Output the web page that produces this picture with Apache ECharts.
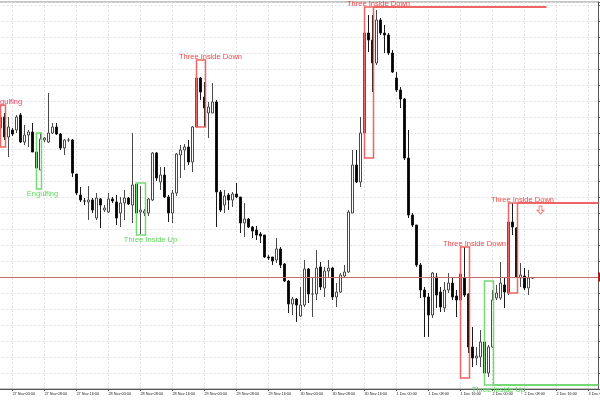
<!DOCTYPE html>
<html><head><meta charset="utf-8">
<script src="https://cdn.jsdelivr.net/npm/echarts@6/dist/echarts.min.js"></script>
<style>html,body{margin:0;padding:0;background:#fff}#c{width:600px;height:400px}</style>
</head><body><div id="c"></div>
<script>
// hourly bars, first visible bar 26 Nov 2025 21:00
const firstBarUTC = Date.UTC(2025, 10, 26, 21, 0);
const slotCount = 150;
const monthNames = ['Jan','Feb','Mar','Apr','May','Jun','Jul','Aug','Sep','Oct','Nov','Dec'];

const open = [261,272,252,259,259,274,247,254,257,237, 219,249,247,256,262,255,241,249,249,215,
 194,188,187,189,171,190,179,177,190,187, 176,186,191,184,205,177,176,176,189,236,
 207,214,192,176,196,234,239,242,227,262, 311,292,276,276,287,197,184,194,189,195,
 192,166,170,162,159,155,154,132,132,129, 140,125,108,85,90,73,84,120,95,95,
 122,101,118,121,92,97,113,117,176,224, 207,256,356,349,326,369,356,354,336,311,
 299,290,231,174,164,124,99,92,74,112, 97,81,99,106,93,89,111,95,42,31,
 32,47,16,42,91,91,104,96,167,161, 111,113,101,111];
const close = [272,252,262,255,272,247,254,257,237,221, 250,251,256,262,255,241,249,249,216,196,
 189,188,189,179,191,184,181,190,188,171, 186,191,185,204,176,179,178,190,236,211,
 214,192,176,196,235,239,242,227,262,311, 297,281,282,287,197,179,193,189,195,192,
 166,170,162,158,154,153,132,131,128,140, 124,108,85,90,84,84,120,95,95,121,
 102,118,121,92,97,114,117,177,224,207, 256,356,349,326,369,356,354,336,317,299,
 290,231,174,164,124,99,92,74,116,94, 82,99,106,92,89,115,94,42,31,33,
 47,16,42,89,96,106,97,167,162,112, 114,101,111,111];
const low = [243,249,232,253,256,246,244,242,237,212, 219,247,246,255,254,239,234,247,212,194,
 187,184,169,176,169,161,177,176,186,164, 162,169,184,166,173,155,173,173,188,208,
 199,191,167,166,193,211,219,224,217,262, 289,262,251,276,162,177,176,179,182,191,
 156,152,161,151,149,146,131,129,124,126, 121,107,76,74,67,72,82,86,72,89,
 99,92,112,89,82,96,112,116,176,206, 202,255,337,297,324,354,336,334,316,297,
 281,229,171,162,122,91,52,52,71,81, 77,77,96,89,72,87,92,36,22,24,
 22,9,12,41,89,89,81,94,154,111, 102,99,94,110];
const high = [283,276,272,261,274,276,264,259,266,237, 256,252,296,266,266,256,250,251,250,215,
 202,191,203,191,196,191,184,196,192,194, 192,199,192,256,206,203,180,191,237,237,
 222,222,194,199,236,244,245,249,263,329, 312,307,287,306,289,199,199,196,197,206,
 192,186,171,163,163,157,154,134,132,151, 142,126,109,92,91,102,129,121,112,139,
 127,122,129,122,106,116,124,179,239,239, 272,372,374,374,379,371,364,356,339,317,
 302,291,259,176,164,126,102,96,117,116, 102,107,116,112,99,142,142,96,62,42,
 59,59,44,99,104,127,112,186,186,162, 126,121,119,112];

const lastPrice = 112;

// candle-pattern annotations
const patternName   = ['Engulfing','Engulfing','Three Inside Up','Three Inside Down','Three Inside Down','Three Inside Down','Three Inside Up','Three Inside Down'];
const patternBull   = [false, true, true, false, false, false, true, false];
const patternStart  = [0, 9, 34, 49, 91, 115, 121, 127];
const patternEnd    = [1, 10, 36, 51, 93, 117, 123, 129];
const patternTop    = [284, 256, 206, 329, 382, 142, 108, 186];
const patternBottom = [242, 200, 154, 262, 231, 11, 4, 96];
const patternLabelAt = [1.5, 10.5, 37.5, 52.5, 94.5, 118.5, 124.5, 130.5];
const patternExtendTo = [null, null, null, null, 136.5, null, 149.5, 149.5];
const arrowPoints = [[135, 179]];

const categories = [];
const isTickIdx = [];
for (let i = 0; i < slotCount; i++) {
  const d = new Date(firstBarUTC + i * 3600000);
  const hh = d.getUTCHours();
  categories.push(d.getUTCDate() + ' ' + monthNames[d.getUTCMonth()] + ' ' + String(hh).padStart(2,'0') + ':00');
  isTickIdx.push(hh % 8 === 0);
}
const isTick = (idx) => isTickIdx[idx];

const ohlc = open.map((o, i) => [o, close[i], low[i], high[i]]);
const RED = '#f06464', RED_TXT = '#f04848', GREEN = '#74d874', GREEN_TXT = '#5cd65c';
const GRID_LINE = {color: '#e0e0e0', type: [2, 2], width: 1};

const chart = echarts.init(document.getElementById('c'), null, {renderer: 'canvas'});
chart.setOption({
  animation: false,
  backgroundColor: '#fff',
  grid: {left: -1.5, right: 1.5, top: 2, bottom: 11, show: true, borderColor: '#888', borderWidth: 1,
         containLabel: false, outerBoundsMode: 'none'},
  xAxis: {
    type: 'category', data: categories, boundaryGap: true,
    axisLine: {lineStyle: {color: '#555', width: 1}},
    axisTick: {show: true, alignWithLabel: true, interval: isTick, length: 2, lineStyle: {color: '#555'}},
    axisLabel: {interval: isTick, align: 'left', fontSize: 3.8, color: '#222', margin: 3, fontFamily: 'Liberation Sans', hideOverlap: false},
    splitLine: {show: true, alignWithLabel: true, interval: isTick, lineStyle: GRID_LINE}
  },
  yAxis: {
    type: 'value', position: 'right', min: 0, max: 387, interval: 16,
    axisLine: {show: true, lineStyle: {color: '#555'}},
    axisTick: {show: true, length: 3, lineStyle: {color: '#555'}},
    axisLabel: {show: false},
    splitLine: {show: true, lineStyle: GRID_LINE}
  },
  series: [
    {
      type: 'candlestick', data: ohlc, barWidth: 3,
      itemStyle: {color: '#fff', color0: '#000', borderColor: '#4a4a4a', borderColor0: '#1a1a1a', borderWidth: 1},
      emphasis: {disabled: true},
      markLine: {
        symbol: 'none', silent: true, animation: false,
        data: [{yAxis: lastPrice}],
        lineStyle: {color: '#c46a6a', width: 1, type: 'solid'},
        label: {show: true, position: 'end', distance: 0, formatter: 'L' + lastPrice, backgroundColor: '#e00000', color: '#fff', fontSize: 7, padding: [1, 2]}
      }
    },
    {
      type: 'custom', silent: true, z: 5,
      data: patternName.map((n, i) => [patternStart[i], patternTop[i], patternEnd[i], patternBottom[i]]),
      encode: {x: [0, 2], y: [1, 3]},
      renderItem: function (params, api) {
        const i = params.dataIndex;
        const bull = patternBull[i];
        const bw = api.size([1, 0])[0];
        const p1 = api.coord([patternStart[i], patternTop[i]]);
        const p2 = api.coord([patternEnd[i], patternBottom[i]]);
        const x1 = p1[0], x2 = p2[0] + 1, y1 = p1[1], y2 = p2[1];
        const col = bull ? GREEN : RED;
        const children = [{type: 'rect', shape: {x: x1, y: y1, width: x2 - x1, height: y2 - y1},
          style: {fill: 'none', stroke: col, lineWidth: 1.5}}];
        const ext = patternExtendTo[i];
        if (ext != null) {
          const b = Math.floor(ext);
          const ex = api.coord([b, 0])[0] + (ext - b) * bw;
          const ly = bull ? y2 : y1;
          children.push({type: 'line', shape: {x1: x2, y1: ly, x2: ex, y2: ly}, style: {stroke: col, lineWidth: 2}});
        }
        const lb = Math.floor(patternLabelAt[i]);
        const lx = api.coord([lb, 0])[0] + (patternLabelAt[i] - lb) * bw;
        const ty = bull ? y2 + 4.5 : y1 - 3;
        children.push({type: 'text', style: {text: patternName[i], x: lx, y: ty, align: 'center', verticalAlign: 'middle',
          fill: bull ? GREEN_TXT : (i === 0 ? '#f03c64' : RED_TXT), font: '7.5px "Liberation Sans"'}});
        return {type: 'group', children: children};
      }
    },
    {
      type: 'scatter', data: arrowPoints, silent: true, z: 6,
      symbol: 'path://M3,0L7,0L7,6L10,6L5,11L0,6L3,6Z', symbolSize: [7, 8],
      itemStyle: {color: '#fff', borderColor: RED, borderWidth: 1}
    }
  ]
});
</script>
</body></html>
